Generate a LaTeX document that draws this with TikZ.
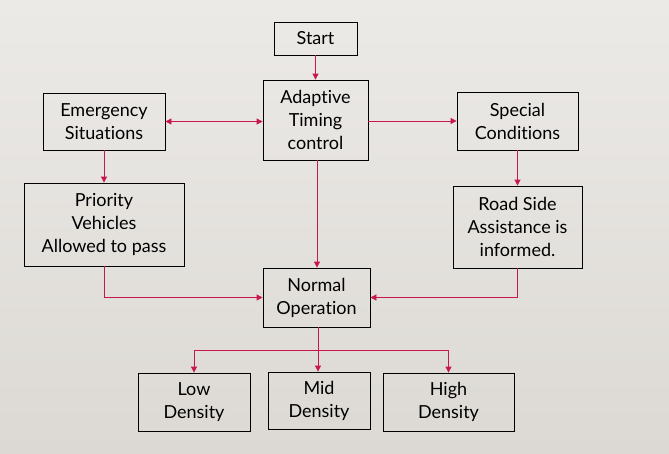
\documentclass[tikz,border=0pt]{standalone}
\usepackage{fontspec}
\setmainfont{Lato}[Ligatures={NoCommon,NoDiscretionary}]
\usetikzlibrary{arrows.meta}
\definecolor{flowred}{HTML}{C8174E}
\definecolor{bgtop}{HTML}{ECEAE7}
\definecolor{bgbot}{HTML}{DCD9D4}
\tikzset{
    stepbox/.style={draw=black, thick, align=center, inner sep=0, font=\fontsize{18}{23}\selectfont},
    flow/.style={draw=flowred, thick, -{Triangle[width=6pt,length=6pt]}}
}
\begin{document}
\begin{tikzpicture}[x=1pt,y=-1pt]
    \shade[top color=bgtop, bottom color=bgbot] (0,0) rectangle (669,453);
    \useasboundingbox (0,0) rectangle (669,453);
    \node[stepbox, minimum width=83pt, minimum height=33pt] (start) at (315.5,38.5) {Start};
    \node[stepbox, minimum width=105pt, minimum height=80pt] (adaptive) at (315.5,120) {Adaptive\\Timing\\control};
    \node[stepbox, minimum width=122pt, minimum height=57pt] (emergency) at (104,121.5) {Emergency\\Situations};
    \node[stepbox, minimum width=121pt, minimum height=58pt] (special) at (517.5,121) {Special\\Conditions};
    \node[stepbox, minimum width=160pt, minimum height=83pt] (priority) at (104,224.5) {Priority\\Vehicles\\Allowed to pass};
    \node[stepbox, minimum width=129pt, minimum height=82pt] (roadside) at (517.5,227) {Road Side\\Assistance is\\informed.};
    \node[stepbox, minimum width=107pt, minimum height=59pt] (normal) at (316.5,297.5) {Normal\\Operation};
    \node[stepbox, minimum width=112pt, minimum height=58pt] (low) at (194,402) {Low\\Density};
    \node[stepbox, minimum width=102pt, minimum height=57pt] (mid) at (319,400.5) {Mid\\Density};
    \node[stepbox, minimum width=131pt, minimum height=58pt] (high) at (448.5,402) {High\\Density};
    \coordinate (split) at (318,350);
    % connectors
    \draw[flow] (start) -- (adaptive);
    \draw[flow, {Triangle[width=6pt,length=6pt]}-{Triangle[width=6pt,length=6pt]}] (emergency.east) -- (adaptive.west |- emergency.east);
    \draw[flow] (adaptive.east |- 0,121) -- (special.west |- 0,121);
    \draw[flow] (emergency) -- (priority);
    \draw[flow] (special.south -| roadside) -- (roadside);
    \draw[flow] (adaptive.south -| 317,0) -- (normal.north -| 317,0);
    \draw[flow] (priority.south) |- (normal.west);
    \draw[flow] (roadside.south) |- (normal.east);
    \draw[draw=flowred, thick] (normal.south -| split) -- (split);
    \draw[flow] (split) -| (low.north);
    \draw[flow] (split) -- (mid.north -| split);
    \draw[flow] (split) -| (high.north);
\end{tikzpicture}
\end{document}
